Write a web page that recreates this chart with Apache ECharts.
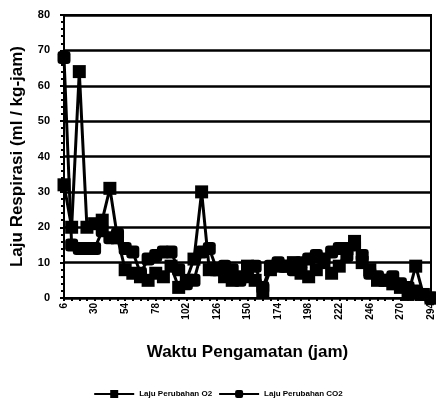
<!DOCTYPE html>
<html>
<head>
<meta charset="utf-8">
<script src="https://cdn.jsdelivr.net/npm/echarts@6/dist/echarts.min.js"></script>
<style>
  html, body { margin: 0; padding: 0; background: #fff; }
  #chart { width: 436px; height: 404px; }
</style>
</head>
<body>
<div id="chart"></div>
<script>
// jam pengamatan (setiap 6 jam)
const hours = [6, 12, 18, 24, 30, 36, 42, 48, 54, 60, 66, 72, 78, 84, 90, 96, 102, 108, 114, 120,
  126, 132, 138, 144, 150, 156, 162, 168, 174, 180, 186, 192, 198, 204, 210, 216, 222, 228, 234, 240,
  246, 252, 258, 264, 270, 276, 282, 288, 294];

// laju perubahan O2 (ml/kg-jam)
const o2 = [32, 20, 64, 20, 21, 22, 31, 17, 8, 7, 6, 5, 7, 6, 9, 3, 5, 11, 30, 8,
  8, 6, 5, 6, 9, 5, 2, 8, 9, 9, 10, 7, 6, 8, 10, 7, 9, 14, 16, 10,
  8, 5, 5, 4, 3, 1, 9, 1, 0];

// laju perubahan CO2 (ml/kg-jam)
const co2 = [68, 15, 14, 14, 14, 19, 17, 18, 14, 13, 7, 11, 12, 13, 13, 8, 4, 5, 13, 14,
  8, 9, 8, 5, 6, 9, 3, 9, 10, 9, 8, 10, 11, 12, 11, 13, 14, 12, 15, 12,
  7, 6, 5, 6, 4, 3, 2, 1, 0];

let chart = null;
function initChart() {
    chart = echarts.init(document.getElementById('chart'));
    const font = 'Liberation Sans, Arial, sans-serif';

    const option = {
        animation: false,
        textStyle: { fontFamily: font, color: '#000' },
        grid: { left: 64, right: 5, top: 15, bottom: 106, show: true, borderColor: '#000', borderWidth: 2 },
        legend: {
            bottom: 1, left: 'center',
            itemWidth: 40, itemHeight: 10, itemGap: 6,
            textStyle: { fontSize: 8, fontWeight: 'bold', color: '#000', fontFamily: font },
            data: ['Laju Perubahan O2', 'Laju Perubahan CO2']
        },
        xAxis: {
            type: 'category',
            data: hours,
            boundaryGap: false,
            name: 'Waktu Pengamatan (jam)',
            nameLocation: 'middle',
            nameGap: 46,
            nameTextStyle: { fontSize: 17, fontWeight: 'bold', color: '#000', fontFamily: font },
            axisLine: { lineStyle: { color: '#000', width: 2 } },
            axisTick: { interval: 0, length: 3, lineStyle: { color: '#000', width: 2 } },
            axisLabel: { interval: 3, rotate: 90, fontSize: 10, fontWeight: 'bold', color: '#000', margin: 5 },
            splitLine: { show: false }
        },
        yAxis: {
            type: 'value',
            min: 0, max: 80, interval: 10,
            name: 'Laju Respirasi (ml / kg-jam)',
            nameLocation: 'middle',
            nameGap: 38,
            nameTextStyle: { fontSize: 17, fontWeight: 'bold', color: '#000', fontFamily: font },
            axisLine: { show: true, lineStyle: { color: '#000', width: 2 } },
            axisTick: { show: true, length: 4, lineStyle: { color: '#000', width: 2 } },
            minorTick: { show: true, splitNumber: 5, length: 3, lineStyle: { color: '#000', width: 2 } },
            axisLabel: { fontSize: 11, fontWeight: 'bold', color: '#000', margin: 14 },
            splitLine: { show: true, lineStyle: { color: '#000', width: 2.5 } }
        },
        series: [
            {
                name: 'Laju Perubahan O2', type: 'line', data: o2,
                symbol: 'rect', symbolSize: 13, showAllSymbol: true,
                lineStyle: { color: '#000', width: 3 },
                itemStyle: { color: '#000' }
            },
            {
                name: 'Laju Perubahan CO2', type: 'line', data: co2,
                symbol: 'roundRect', symbolSize: 13, showAllSymbol: true,
                lineStyle: { color: '#000', width: 3 },
                itemStyle: { color: '#000' }
            }
        ]
    };

    chart.setOption(option);
}

document.addEventListener('DOMContentLoaded', initChart);
</script>
</body>
</html>
